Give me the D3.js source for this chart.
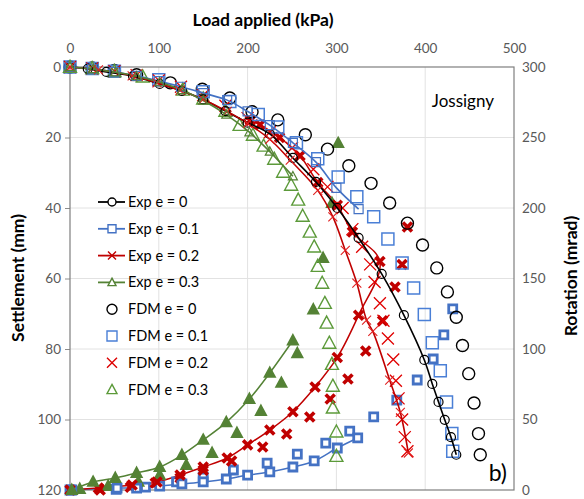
<!DOCTYPE html>
<html>
<head>
<meta charset="utf-8">
<script src="https://cdn.jsdelivr.net/npm/d3@7"></script>
<style>
  body { margin: 0; background: #fff; }
  text { font-family: Lato, "Open Sans", sans-serif; }
</style>
</head>
<body>
<div id="chart"></div>
<script>
// [load kPa, settlement mm]
const expE0 = [[0,0],[20,0.5],[41,1.4],[71,2.6],[101,4.8],[126,6.8],[150,9.2],[175,12.5],[200,15.8],[225,19],[251,25.8],[277,32.6],[301,40],[325,48.5],[351,58.7],[376,70.4],[399,83.1],[408,89.9],[415,95],[422,100.1],[429,105],[435,110]];
const expE01 = [[0,0],[25,0.5],[50,1.4],[75,2.5],[100,4],[125,5.6],[150,7.4],[177,9.4],[200,12.6],[225,16.5],[251,21.5],[277,27],[300,34.3],[325,40.3]];
const expE02 = [[0,0],[32,0.8],[70,2.5],[98,4.5],[124,6.6],[150,9.2],[177,12.6],[200,16],[225,20.5],[248,26.4],[279,35],[296,42.5],[310,52],[323,61.3],[334,71.8],[341,75],[360,88.8],[372,98],[381,109.5]];
const expE03 = [[0,0],[26,0.6],[51,1.5],[75,2.6],[101,4.3],[126,6.5],[150,9.5],[176,13.5],[202,18.5],[225,24],[251,31]];

const fdmE0 = [[0,0],[25,0.3],[50,1],[75,2.2],[113,4.5],[149,6.3],[180,8.8],[205,12.7],[234,15],[265,19.2],[290,23.3],[314,28],[339,33],[360,38.6],[380,44.3],[397,50.5],[413,57],[425,63.8],[435,71],[442,79],[449,87],[455,95.3],[460,104],[462,110]];
const fdmE01 = [[0,0],[25,0.4],[50,1.2],[100,3.6],[150,7],[180,9.8],[212,13.5],[234,17],[255,21.5],[279,26],[302,31.2],[323,36.8],[342,42.5],[358,48.8],[374,55.6],[387,62.7],[399,70.2],[408,78.2],[417,86.2],[424,95],[430,104],[431,109]];
const fdmE02 = [[0,0],[25,0.4],[50,1.2],[75,2.3],[100,3.8],[125,5.6],[150,8],[175,11],[200,14.5],[225,18.5],[250,23],[274,29],[290,34],[307,40],[318,46],[329,51],[338,56],[343,61],[349,67],[353,72],[358,77],[364,83],[367,89],[370,94],[374,100],[377,105],[380,109]];
const fdmE03 = [[0,0],[25,0.4],[50,1.2],[82,2.8],[127,6.5],[150,9],[175,12.5],[191,16.5],[206,19.3],[218,22.4],[230,26.1],[240,29.8],[249,33.5],[257,37.7],[262,42.3],[270,46.8],[275,51],[279,56.5],[284,61.3],[287,67],[289,72.6],[292,78.3],[295,84.3],[296,90.5],[296,96.7],[300,103.5],[300,110.4]];

// [load kPa, rotation mrad]
const expRotE01 = [[2,0],[53,1.4],[75,1.4],[101,2.8],[126,4.3],[150,5.7],[176,7.8],[200,10.6],[225,12.8],[251,16.3],[275,20.6],[301,29.8],[324,36.9]];
const expRotE02 = [[0,0],[32,1.4],[70,3.5],[98,5.7],[124,10.6],[150,16.3],[177,22.7],[200,32],[225,42.5],[251,55.5],[276,73],[301,94],[325,124],[349,162],[318,183],[301,202],[279,218],[259,237],[236,250],[214,259],[203,262]];
const expRotE03 = [[2,0],[26,5.7],[51,8.5],[75,12],[101,16.3],[126,24.8],[150,35.5],[176,48],[202,64.5],[225,83],[251,106]];

const fdmRotE01 = [[0,0],[52,0.5],[85,2],[120,5.7],[150,9.2],[184,14.2],[222,19.1],[256,25.5],[288,33.3],[315,41.8],[342,51.8],[368,63.8],[391,78],[409,92.9],[421,110],[431,128.4]];
const fdmRotE02 = [[34,0],[68,2],[96,5],[124,8.5],[150,14],[182,20.6],[217,30.5],[244,39.7],[270,51.8],[293,64.5],[313,78.7],[333,98.6],[352,120],[366,144],[374,160],[380,186.5]];
const fdmRotE03 = [[11,0.7],[43,2.8],[77,5.7],[101,10.6],[131,17.7],[160,26.2],[188,40.4],[215,56],[238,76],[256,97],[274,128],[285,164.5],[295,203.5],[302,246]];

const loadTicks = [0, 100, 200, 300, 400, 500];
const settleTicks = [0, 20, 40, 60, 80, 100, 120];
const rotTicks = [0, 50, 100, 150, 200, 250, 300];

const legendItems = [
  { label: "Exp e = 0", kind: "exp", shape: "circle", color: "#000000" },
  { label: "Exp e = 0.1", kind: "exp", shape: "square", color: "#4472c4" },
  { label: "Exp e = 0.2", kind: "exp", shape: "x", color: "#c00000" },
  { label: "Exp e = 0.3", kind: "exp", shape: "triangle", color: "#548235" },
  { label: "FDM e = 0", kind: "fdm", shape: "circle", color: "#000000" },
  { label: "FDM e = 0.1", kind: "fdm", shape: "square", color: "#4a7fd6" },
  { label: "FDM e = 0.2", kind: "fdm", shape: "x", color: "#dd0000" },
  { label: "FDM e = 0.3", kind: "fdm", shape: "triangle", color: "#5c9a3a" },
];

const width = 584;
const height = 499;
const margin = { top: 67, right: 70, bottom: 9, left: 70 };

const x = d3.scaleLinear().domain([0, 500]).range([margin.left, width - margin.right]);
const ySet = d3.scaleLinear().domain([0, 120]).range([margin.top, height - margin.bottom]);
const yRot = d3.scaleLinear().domain([0, 300]).range([height - margin.bottom, margin.top]);

function shapePath(shape, s) {
  const h = s / 2;
  if (shape === "circle") {
    return `M${-h},0a${h},${h} 0 1,0 ${s},0a${h},${h} 0 1,0 ${-s},0Z`;
  }
  if (shape === "square") return `M${-h},${-h}H${h}V${h}H${-h}Z`;
  if (shape === "x") return `M${-h},${-h}L${h},${h}M${h},${-h}L${-h},${h}`;
  if (shape === "triangle") {
    return `M0,${-h * 1.05}L${h},${h * 0.8}L${-h},${h * 0.8}Z`;
  }
}

const svg = d3.select("#chart").append("svg")
  .attr("width", width)
  .attr("height", height);

// grid
svg.append("g")
  .selectAll("line")
  .data(loadTicks.slice(1, -1))
  .join("line")
  .attr("x1", (d) => x(d)).attr("x2", (d) => x(d))
  .attr("y1", margin.top).attr("y2", height - margin.bottom)
  .attr("stroke", "#e2e2e2");

svg.append("g")
  .selectAll("line")
  .data(settleTicks.slice(1, -1))
  .join("line")
  .attr("x1", margin.left).attr("x2", width - margin.right)
  .attr("y1", (d) => ySet(d)).attr("y2", (d) => ySet(d))
  .attr("stroke", "#e2e2e2");

// axes
const tickColor = "#595959";
const topAxis = svg.append("g")
  .attr("transform", `translate(0,${margin.top})`)
  .call(d3.axisTop(x).tickValues(loadTicks).tickSize(0).tickPadding(14));
const leftAxis = svg.append("g")
  .attr("transform", `translate(${margin.left},0)`)
  .call(d3.axisLeft(ySet).tickValues(settleTicks).tickSize(5).tickPadding(4));
const rightAxis = svg.append("g")
  .attr("transform", `translate(${width - margin.right},0)`)
  .call(d3.axisRight(yRot).tickValues(rotTicks).tickSize(0).tickPadding(8));

[topAxis, leftAxis, rightAxis].forEach((g) => {
  g.select(".domain").remove();
  g.selectAll("text").attr("fill", tickColor).attr("font-size", 13.5);
  g.selectAll("line").attr("stroke", "#8c8c8c");
});

svg.append("rect")
  .attr("x", margin.left).attr("y", margin.top)
  .attr("width", width - margin.left - margin.right)
  .attr("height", height - margin.top - margin.bottom)
  .attr("fill", "none")
  .attr("stroke", "#7f7f7f")
  .attr("stroke-width", 1.2);

// titles
svg.append("text")
  .attr("x", 263)
  .attr("y", 26)
  .attr("text-anchor", "middle")
  .attr("font-size", 17.5).attr("font-weight", "bold")
  .text("Load applied (kPa)");

svg.append("text")
  .attr("transform", "translate(24,278) rotate(-90)")
  .attr("text-anchor", "middle")
  .attr("font-size", 17.5).attr("font-weight", "bold")
  .text("Settlement (mm)");

svg.append("text")
  .attr("transform", "translate(577,276) rotate(-90)")
  .attr("text-anchor", "middle")
  .attr("font-size", 17.5).attr("font-weight", "bold")
  .text("Rotation (mrad)");

svg.append("text")
  .attr("x", 494).attr("y", 107)
  .attr("text-anchor", "end")
  .attr("font-size", 17)
  .text("Jossigny");

svg.append("text")
  .attr("x", 507).attr("y", 481)
  .attr("text-anchor", "end")
  .attr("font-size", 23)
  .text("b)");

const plot = svg.append("g");
const curve = d3.curveCatmullRom.alpha(0.5);

function drawLine(data, y, color, w) {
  plot.append("path")
    .datum(data)
    .attr("fill", "none")
    .attr("stroke", color)
    .attr("stroke-width", w)
    .attr("d", d3.line().x((d) => x(d[0])).y((d) => y(d[1])).curve(curve));
}

function drawMarks(data, y, shape, size, style) {
  plot.append("g")
    .selectAll("path")
    .data(data)
    .join("path")
    .attr("transform", (d) => `translate(${x(d[0])},${y(d[1])})`)
    .attr("d", shapePath(shape, size))
    .attr("fill", style.fill || "none")
    .attr("stroke", style.stroke)
    .attr("stroke-width", style.width);
}

// rotation (secondary axis)
drawLine(expRotE01, yRot, "#4472c4", 1.5);
drawLine(expRotE02, yRot, "#c00000", 1.5);
drawLine(expRotE03, yRot, "#548235", 1.5);
drawMarks(fdmRotE01, yRot, "square", 8, { stroke: "#4472c4", width: 2.8, fill: "#fff" });
drawMarks(fdmRotE02, yRot, "x", 9, { stroke: "#c00000", width: 3.6 });
drawMarks(fdmRotE03, yRot, "triangle", 9, { stroke: "#548235", width: 2.6, fill: "#548235" });
drawMarks(expRotE01, yRot, "square", 8, { stroke: "#4472c4", width: 2.8, fill: "#fff" });
drawMarks(expRotE02, yRot, "x", 9, { stroke: "#c00000", width: 3.6 });
drawMarks(expRotE03, yRot, "triangle", 9, { stroke: "#548235", width: 2.6, fill: "#548235" });

// settlement FDM
drawMarks(fdmE0, ySet, "circle", 12, { stroke: "#000", width: 1.4 });
drawMarks(fdmE01, ySet, "square", 12, { stroke: "#4a7fd6", width: 1.5 });
drawMarks(fdmE02, ySet, "x", 12, { stroke: "#e00000", width: 1.3 });
drawMarks(fdmE03, ySet, "triangle", 13, { stroke: "#5c9a3a", width: 1.4 });

// settlement Exp
drawLine(expE0, ySet, "#000", 1.6);
drawLine(expE01, ySet, "#4472c4", 1.6);
drawLine(expE02, ySet, "#c00000", 1.6);
drawLine(expE03, ySet, "#548235", 1.6);
drawMarks(expE0, ySet, "circle", 9, { stroke: "#000", width: 1.2 });
drawMarks(expE01, ySet, "square", 9, { stroke: "#4472c4", width: 1.2 });
drawMarks(expE02, ySet, "x", 9, { stroke: "#e02020", width: 1.1 });
drawMarks(expE03, ySet, "triangle", 9, { stroke: "#548235", width: 1.2 });

// legend
const legend = svg.append("g").attr("transform", "translate(98,202)");
const row = legend.selectAll("g")
  .data(legendItems)
  .join("g")
  .attr("transform", (d, i) => `translate(0,${i * 26.8})`);

row.filter((d) => d.kind === "exp")
  .append("line")
  .attr("x1", 0).attr("x2", 27)
  .attr("stroke", (d) => d.color)
  .attr("stroke-width", 1.8);

row.append("path")
  .attr("transform", "translate(14,0)")
  .attr("d", (d) => shapePath(d.shape, d.kind === "exp" ? 8 : 10))
  .attr("fill", "#fff")
  .attr("stroke", (d) => d.color)
  .attr("stroke-width", 1.4);

row.append("text")
  .attr("x", 30)
  .attr("dy", "0.35em")
  .attr("font-size", 14.5)
  .text((d) => d.label);
</script>
</body>
</html>
